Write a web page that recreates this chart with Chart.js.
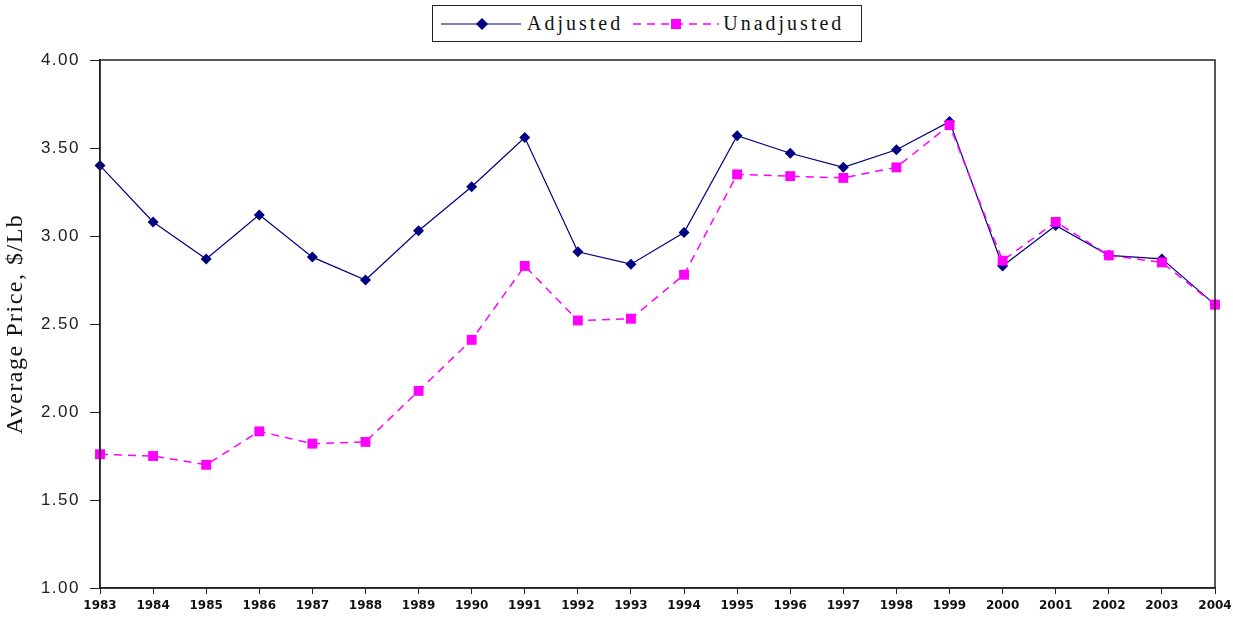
<!DOCTYPE html>
<html>
<head>
<meta charset="utf-8">
<script src="https://cdn.jsdelivr.net/npm/chart.js@4"></script>
<style>
  html, body { margin: 0; padding: 0; background: #fff; }
  #wrap { position: relative; width: 1233px; height: 618px; }
  #legend {
    position: absolute; left: 432px; top: 5px; width: 428px; height: 35px;
    border: 1.5px solid #222; display: flex; align-items: center;
    font-family: "Liberation Serif", "DejaVu Serif", serif; font-size: 20px;
    letter-spacing: 3px; color: #111; background: #fff;
  }
  #legend .item { display: flex; align-items: center; }
  #legend svg { display: block; }
</style>
</head>
<body>
<div id="wrap">
  <canvas id="chart"></canvas>
  <div id="legend">
    <div class="item" style="margin-left:8px;">
      <svg width="80" height="14"><line x1="0" y1="7" x2="80" y2="7" stroke="#000080" stroke-width="1.2"/><polygon points="35,7 41,1 47,7 41,13" fill="#000080"/></svg>
      <span style="margin-left:6px;">Adjusted</span>
    </div>
    <div class="item" style="margin-left:10px;">
      <svg width="86" height="14"><line x1="0" y1="7" x2="86" y2="7" stroke="#ff00ff" stroke-width="1.5" stroke-dasharray="8,6"/><rect x="38" y="2" width="10" height="10" fill="#ff00ff"/></svg>
      <span style="margin-left:4px;">Unadjusted</span>
    </div>
  </div>
</div>
<script>
// Datos
const years = ['1983','1984','1985','1986','1987','1988','1989','1990','1991','1992','1993',
               '1994','1995','1996','1997','1998','1999','2000','2001','2002','2003','2004'];
const adjusted = [3.40, 3.08, 2.87, 3.12, 2.88, 2.75, 3.03, 3.28, 3.56, 2.91, 2.84,
                  3.02, 3.57, 3.47, 3.39, 3.49, 3.65, 2.83, 3.06, 2.89, 2.87, 2.61];
const unadjusted = [1.76, 1.75, 1.70, 1.89, 1.82, 1.83, 2.12, 2.41, 2.83, 2.52, 2.53,
                    2.78, 3.35, 3.34, 3.33, 3.39, 3.63, 2.86, 3.08, 2.89, 2.85, 2.61];
const yTicks = [1.0, 1.5, 2.0, 2.5, 3.0, 3.5, 4.0];

// Espaciado entre letras por eje (el original tiene texto mas abierto)
const spacing = { y: { labels: '1.5px', title: '1.5px' }, x: { labels: '0px', title: '0px' } };

const letterSpacing = {
  id: 'letterSpacing',
  afterLayout(chart) {
    Object.keys(spacing).forEach(id => {
      const s = chart.scales[id];
      if (!s || s._spaced) return;
      const wrap = (fn, sp) => function (a) {
        const c = this.ctx, prev = c.letterSpacing;
        c.letterSpacing = sp;
        fn.call(this, a);
        c.letterSpacing = prev;
      };
      s.drawLabels = wrap(s.drawLabels, spacing[id].labels);
      s.drawTitle = wrap(s.drawTitle, spacing[id].title);
      s._spaced = true;
    });
  }
};

// Marco completo alrededor del area de la grafica
const frame = {
  id: 'frame',
  afterDraw(chart) {
    const a = chart.chartArea, ctx = chart.ctx;
    ctx.save();
    ctx.strokeStyle = '#222';
    ctx.lineWidth = 1.5;
    ctx.strokeRect(a.left, a.top, a.right - a.left, a.bottom - a.top);
    ctx.restore();
  }
};

new Chart(document.getElementById('chart'), {
  type: 'line',
  data: {
    labels: years,
    datasets: [
      {
        label: 'Adjusted',
        data: adjusted,
        borderColor: '#000080',
        backgroundColor: '#000080',
        borderWidth: 1.2,
        pointStyle: 'rectRot',
        pointRadius: 5.5,
        pointBorderWidth: 0,
        tension: 0,
        order: 1
      },
      {
        label: 'Unadjusted',
        data: unadjusted,
        borderColor: '#ff00ff',
        backgroundColor: '#ff00ff',
        borderWidth: 1.5,
        borderDash: [8, 6],
        pointStyle: 'rect',
        pointRadius: 7,
        pointBorderWidth: 0,
        tension: 0,
        order: 0
      }
    ]
  },
  options: {
    responsive: true,
    maintainAspectRatio: false,
    animation: false,
    layout: { padding: { top: 60, right: 18, left: 0, bottom: 0 } },
    plugins: {
      legend: { display: false },
      tooltip: { enabled: false }
    },
    scales: {
      x: {
        offset: false,
        grid: { drawOnChartArea: false, drawTicks: true, tickLength: 6, color: '#222' },
        border: { color: '#222', width: 1.5 },
        ticks: {
          autoSkip: false, maxRotation: 0, padding: 5, color: '#111',
          font: { family: 'DejaVu Sans', size: 12, weight: 'bold' }
        },
        afterFit: s => { s.height = 30; s.paddingLeft = 0; s.paddingRight = 0; }
      },
      y: {
        min: 1, max: 4,
        afterBuildTicks: s => { s.ticks = yTicks.map(v => ({ value: v })); },
        grid: { drawOnChartArea: false, drawTicks: true, tickLength: 10, color: '#222' },
        border: { color: '#222', width: 1.5 },
        ticks: {
          padding: 10, color: '#222',
          font: { family: 'Liberation Sans', size: 17 },
          callback: v => Number(v).toFixed(2)
        },
        title: {
          display: true,
          text: 'Average Price, $/Lb',
          color: '#111',
          font: { family: 'Liberation Serif', size: 24 },
          padding: { top: 1, bottom: 0 }
        },
        afterFit: s => { s.width = 100; s.paddingTop = 0; s.paddingBottom = 0; }
      }
    }
  },
  plugins: [letterSpacing, frame]
});
</script>
</body>
</html>
